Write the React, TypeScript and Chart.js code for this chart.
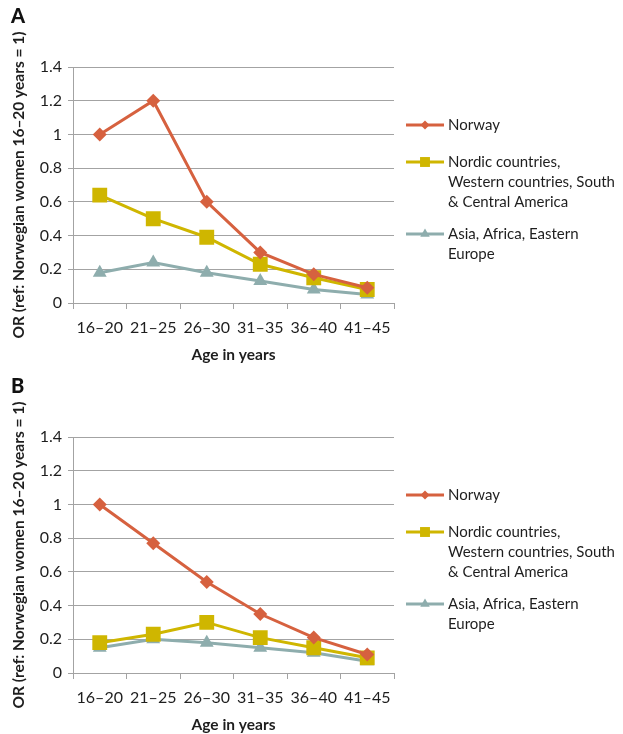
import React, { useEffect, useRef } from "react";
import { Chart, registerables } from "chart.js";

Chart.register(...registerables);

const categories = ["16–20", "21–25", "26–30", "31–35", "36–40", "41–45"];
const seriesNames = ["Norway", "Nordic countries, Western countries, South & Central America", "Asia, Africa, Eastern Europe"];
const legendLines = [["Norway"], ["Nordic countries,", "Western countries, South", "& Central America"], ["Asia, Africa, Eastern", "Europe"]];
const yTicks = [0, 0.2, 0.4, 0.6, 0.8, 1, 1.2, 1.4];

const norwayA = [1.0, 1.2, 0.6, 0.3, 0.17, 0.09];
const nordicA = [0.64, 0.5, 0.39, 0.23, 0.15, 0.08];
const asiaA = [0.18, 0.24, 0.18, 0.13, 0.08, 0.05];

const norwayB = [1.0, 0.77, 0.54, 0.35, 0.21, 0.11];
const nordicB = [0.18, 0.23, 0.3, 0.21, 0.15, 0.09];
const asiaB = [0.15, 0.2, 0.18, 0.15, 0.12, 0.07];

const colors = ["#D6613F", "#CFB600", "#8EADAD"];
const styles = ["rectRot", "rect", "triangle"];
const radii = [7, 10.5, 8];
const legendRadii = [4.5, 7, 5.5];

const FONT = "Lato, 'Open Sans', sans-serif";
const TEXT = "#1e1e1e";
const GRID = "#A3A3A3";

function drawMarker(ctx: CanvasRenderingContext2D, style: string, x: number, y: number, r: number) {
  ctx.beginPath();
  if (style === "rectRot") {
    ctx.moveTo(x, y - r);
    ctx.lineTo(x + r, y);
    ctx.lineTo(x, y + r);
    ctx.lineTo(x - r, y);
  } else if (style === "rect") {
    const s = r * Math.SQRT1_2;
    ctx.rect(x - s, y - s, 2 * s, 2 * s);
  } else {
    const h = r;
    ctx.moveTo(x, y - h);
    ctx.lineTo(x + h * 0.866, y + h * 0.5);
    ctx.lineTo(x - h * 0.866, y + h * 0.5);
  }
  ctx.closePath();
  ctx.fill();
}

const legendPlugin = {
  id: "customLegend",
  afterDraw(chart: any) {
    const ctx = chart.ctx as CanvasRenderingContext2D;
    const ys = [125, 162, 234];
    ctx.save();
    ctx.font = `15px ${FONT}`;
    ctx.textBaseline = "middle";
    ctx.textAlign = "left";
    legendLines.forEach((lines, i) => {
      const y = ys[i];
      ctx.strokeStyle = colors[i];
      ctx.lineWidth = 3;
      ctx.beginPath();
      ctx.moveTo(406, y);
      ctx.lineTo(444, y);
      ctx.stroke();
      ctx.fillStyle = colors[i];
      drawMarker(ctx, styles[i], 425, y, legendRadii[i]);
      ctx.fillStyle = TEXT;
      lines.forEach((t, j) => ctx.fillText(t, 448, y + j * 20));
    });
    ctx.restore();
  },
};

const panelPlugin = {
  id: "panelLabel",
  afterDraw(chart: any) {
    const ctx = chart.ctx as CanvasRenderingContext2D;
    const label = chart.options.plugins.panelLabel?.text;
    if (!label) return;
    ctx.save();
    ctx.font = `900 20px ${FONT}`;
    ctx.fillStyle = "#111";
    ctx.textBaseline = "middle";
    ctx.fillText(label, 11, 17);
    ctx.restore();
  },
};

function Panel({ label, data, top }: { label: string; data: number[][]; top: number }) {
  const ref = useRef<HTMLCanvasElement>(null);
  useEffect(() => {
    const chart = new Chart(ref.current!, {
      type: "line",
      data: {
        labels: categories,
        datasets: data.map((d, i) => ({
          label: seriesNames[i],
          data: d,
          borderColor: colors[i],
          backgroundColor: colors[i],
          borderWidth: 3,
          pointStyle: styles[i] as any,
          pointRadius: radii[i],
          pointBorderWidth: 0,
          pointBackgroundColor: colors[i],
          tension: 0,
        })),
      },
      options: {
        animation: false,
        responsive: false,
        devicePixelRatio: 1,
        layout: { padding: { top: 67, right: 229, left: 0, bottom: 0 } },
        plugins: {
          legend: { display: false },
          tooltip: { enabled: false },
          panelLabel: { text: label },
        } as any,
        scales: {
          x: {
            offset: true,
            grid: {
              offset: true,
              drawOnChartArea: false,
              color: GRID,
              tickLength: 6,
              lineWidth: 1,
            },
            border: { color: GRID, width: 1 },
            ticks: { color: TEXT, font: { family: FONT, size: 16 }, padding: 9, maxRotation: 0, autoSkip: false },
            title: {
              display: true,
              text: "Age in years",
              color: TEXT,
              font: { family: FONT, size: 15.5, weight: "bold" },
              padding: { top: 0, bottom: 0 },
            },
            afterFit: (s: any) => {
              s.height = 61;
            },
          },
          y: {
            min: 0,
            max: 1.4,
            afterBuildTicks: (s: any) => {
              s.ticks = yTicks.map((v) => ({ value: v }));
            },
            grid: { color: GRID, tickLength: 5, lineWidth: 1 },
            border: { color: GRID, width: 1 },
            ticks: {
              color: TEXT,
              font: { family: FONT, size: 16 },
              padding: 6,
              callback: (v: any) => String(Math.round(Number(v) * 10) / 10),
            },
            title: {
              display: true,
              text: "OR (ref: Norwegian women 16–20 years = 1)",
              color: TEXT,
              font: { family: FONT, size: 15.5, weight: "bold" },
              padding: { top: 10, bottom: 0 },
            },
            afterFit: (s: any) => {
              s.width = 73;
            },
          },
        },
      },
      plugins: [legendPlugin, panelPlugin],
    });
    return () => chart.destroy();
  }, []);
  return (
    <canvas
      ref={ref}
      width={623}
      height={364}
      style={{ position: "absolute", left: 0, top, width: 623, height: 364 }}
    />
  );
}

export default function App() {
  useEffect(() => {
    document.body.style.margin = "0";
    document.body.style.overflow = "hidden";
    document.body.style.background = "#fff";
  }, []);
  return (
    <div style={{ position: "relative", width: 623, height: 734, background: "#fff" }}>
      <Panel label="A" data={[norwayA, nordicA, asiaA]} top={0} />
      <Panel label="B" data={[norwayB, nordicB, asiaB]} top={370} />
    </div>
  );
}
